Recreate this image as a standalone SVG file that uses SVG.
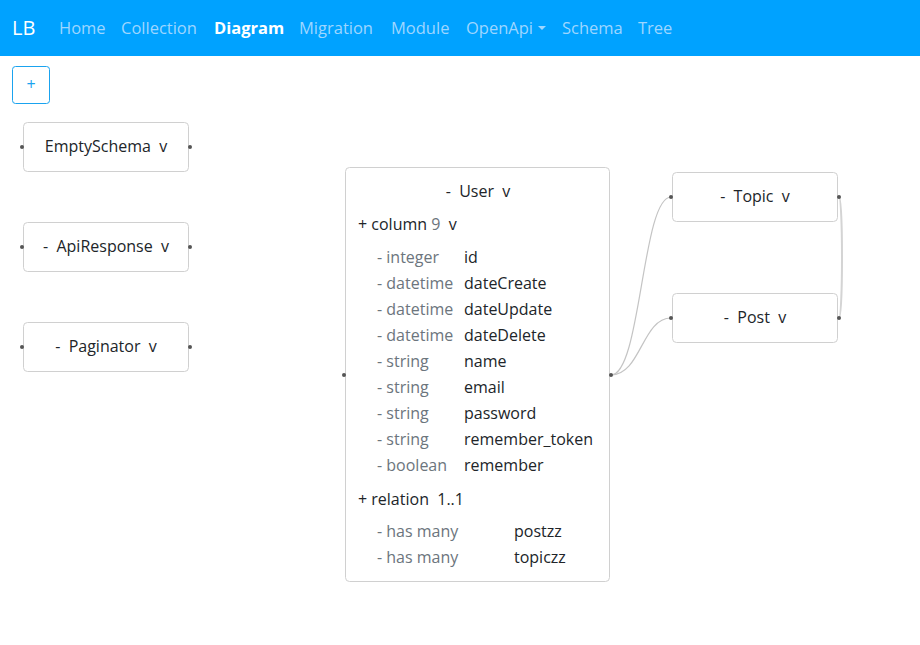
<svg xmlns="http://www.w3.org/2000/svg" width="920" height="645" viewBox="0 0 920 645">
<style>
text{font-family:"Open Sans","Noto Sans","Liberation Sans",sans-serif;white-space:pre;}
.nav{font-size:16.5px;fill:#9ed6ff;}
.node rect{fill:#fff;stroke:#d0d0d0;stroke-width:1;}
.lbl{font-size:16px;fill:#212529;}
.typ{font-size:16px;fill:#6c757d;}
.dot{fill:#555;}
.conn{fill:none;stroke:#c4c4c4;stroke-width:1.2;}
</style>
<rect x="0" y="0" width="920" height="645" fill="#fff"/>
<g id="navbar">
<rect x="0" y="0" width="920" height="56" fill="#00a2ff"/>
<text x="12" y="35" style="font-size:20px;fill:#fff">LB</text>
<text x="59" y="34" class="nav">Home</text>
<text x="121" y="34" class="nav">Collection</text>
<text x="214" y="34" class="nav" style="fill:#fff;font-weight:bold">Diagram</text>
<text x="299" y="34" class="nav">Migration</text>
<text x="391" y="34" class="nav">Module</text>
<text x="466" y="34" class="nav">OpenApi</text>
<path d="M538 26 L546 26 L542 30 Z" fill="#9ed6ff"/>
<text x="562" y="34" class="nav">Schema</text>
<text x="638" y="34" class="nav">Tree</text>
</g>
<g id="add-button">
<rect x="12.5" y="66.5" width="37" height="37" rx="3" fill="#fff" stroke="#1aa3ef"/>
<text x="31" y="90" text-anchor="middle" style="font-size:16px;fill:#1aa3ef">+</text>
</g>
<g id="connectors">
<path class="conn" d="M611 375 C641 375 642 197 671 197"/>
<path class="conn" d="M611 375 C641 375 642 318 671 318"/>
<path class="conn" d="M839 197 C843 197 843 318 839 318" style="stroke-width:2;stroke:#d4d4d4"/>
</g>
<g id="node-emptyschema" class="node">
<rect x="23.5" y="122.5" width="165" height="49" rx="4"/>
<text x="106" y="152" text-anchor="middle" class="lbl">EmptySchema  v</text>
<circle class="dot" cx="22" cy="147" r="2"/>
<circle class="dot" cx="190" cy="147" r="2"/>
</g>
<g id="node-apiresponse" class="node">
<rect x="23.5" y="222.5" width="165" height="49" rx="4"/>
<text x="106" y="252" text-anchor="middle" class="lbl">-  ApiResponse  v</text>
<circle class="dot" cx="22" cy="247" r="2"/>
<circle class="dot" cx="190" cy="247" r="2"/>
</g>
<g id="node-paginator" class="node">
<rect x="23.5" y="322.5" width="165" height="49" rx="4"/>
<text x="106" y="352" text-anchor="middle" class="lbl">-  Paginator  v</text>
<circle class="dot" cx="22" cy="347" r="2"/>
<circle class="dot" cx="190" cy="347" r="2"/>
</g>
<g id="node-user" class="node">
<rect x="345.5" y="167.5" width="264" height="414" rx="4"/>
<text x="478" y="197" text-anchor="middle" class="lbl">-  User  v</text>
<text x="358" y="230" class="lbl">+ column <tspan fill="#6c757d">9</tspan>  v</text>
<text x="377" y="263" class="typ">- integer</text><text x="464" y="263" class="lbl">id</text>
<text x="377" y="289" class="typ">- datetime</text><text x="464" y="289" class="lbl">dateCreate</text>
<text x="377" y="315" class="typ">- datetime</text><text x="464" y="315" class="lbl">dateUpdate</text>
<text x="377" y="341" class="typ">- datetime</text><text x="464" y="341" class="lbl">dateDelete</text>
<text x="377" y="367" class="typ">- string</text><text x="464" y="367" class="lbl">name</text>
<text x="377" y="393" class="typ">- string</text><text x="464" y="393" class="lbl">email</text>
<text x="377" y="419" class="typ">- string</text><text x="464" y="419" class="lbl">password</text>
<text x="377" y="445" class="typ">- string</text><text x="464" y="445" class="lbl">remember_token</text>
<text x="377" y="471" class="typ">- boolean</text><text x="464" y="471" class="lbl">remember</text>
<text x="358" y="505" class="lbl">+ relation  1..1</text>
<text x="377" y="537" class="typ">- has many</text><text x="514" y="537" class="lbl">postzz</text>
<text x="377" y="563" class="typ">- has many</text><text x="514" y="563" class="lbl">topiczz</text>
<circle class="dot" cx="344" cy="375" r="2"/>
<circle class="dot" cx="611" cy="375" r="2"/>
</g>
<g id="node-topic" class="node">
<rect x="672.5" y="172.5" width="165" height="49" rx="4"/>
<text x="755" y="202" text-anchor="middle" class="lbl">-  Topic  v</text>
<circle class="dot" cx="671" cy="197" r="2"/>
<circle class="dot" cx="839" cy="197" r="2"/>
</g>
<g id="node-post" class="node">
<rect x="672.5" y="293.5" width="165" height="49" rx="4"/>
<text x="755" y="323" text-anchor="middle" class="lbl">-  Post  v</text>
<circle class="dot" cx="671" cy="318" r="2"/>
<circle class="dot" cx="839" cy="318" r="2"/>
</g>
</svg>
